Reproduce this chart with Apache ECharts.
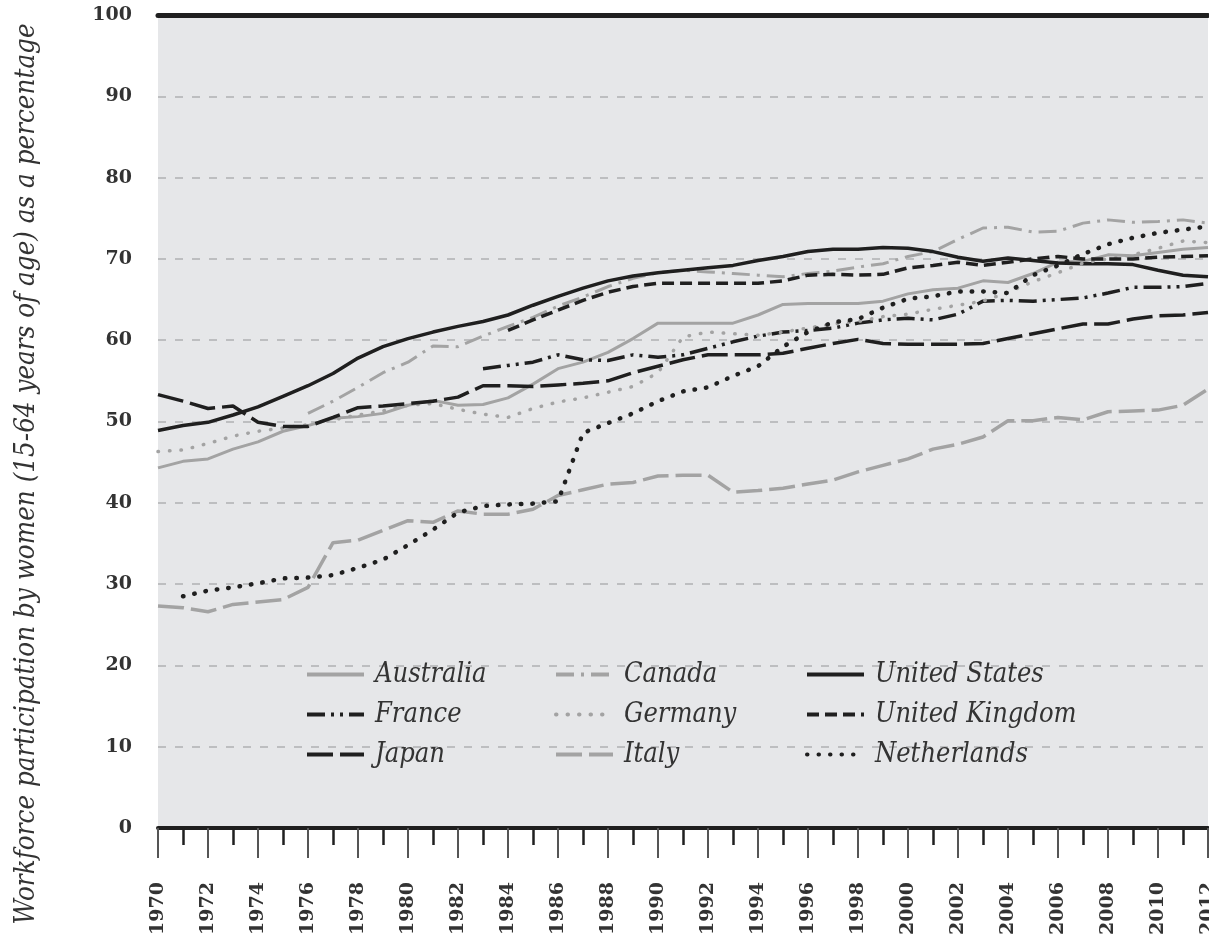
<!DOCTYPE html>
<html>
<head>
<meta charset="utf-8">
<script src="https://cdn.jsdelivr.net/npm/echarts@6/dist/echarts.min.js"></script>
<style>
  html, body { margin: 0; padding: 0; background: #fff; }
  #chart { width: 1209px; height: 941px; }
</style>
</head>
<body>
<div id="chart"></div>
<script>
const years = [
  1970, 1971, 1972, 1973, 1974, 1975, 1976, 1977, 1978, 1979,
  1980, 1981, 1982, 1983, 1984, 1985, 1986, 1987, 1988, 1989,
  1990, 1991, 1992, 1993, 1994, 1995, 1996, 1997, 1998, 1999,
  2000, 2001, 2002, 2003, 2004, 2005, 2006, 2007, 2008, 2009,
  2010, 2011, 2012
];

const australia = [
  44.3, 45.1, 45.4, 46.6, 47.5, 48.8, 49.5, 50.4, 50.6, 51.0,
  52.0, 52.6, 52.0, 52.1, 52.9, 54.6, 56.5, 57.3, 58.5, 60.2,
  62.1, 62.1, 62.1, 62.1, 63.1, 64.4, 64.5, 64.5, 64.5, 64.8,
  65.7, 66.2, 66.4, 67.3, 67.1, 68.2, 69.6, 69.7, 70.5, 70.4,
  70.8, 71.2, 71.4
];
const canada = [
  null, null, null, null, null, null, 51.0, 52.5, 54.2, 56.0,
  57.3, 59.3, 59.2, 60.5, 61.7, 62.8, 64.2, 65.3, 66.6, 67.6,
  68.3, 68.6, 68.4, 68.2, 68.0, 67.8, 68.2, 68.5, 69.0, 69.4,
  70.3, 70.9, 72.4, 73.8, 73.9, 73.3, 73.4, 74.4, 74.8, 74.5,
  74.6, 74.8, 74.4
];
const unitedStates = [
  48.9, 49.5, 49.9, 50.8, 51.8, 53.1, 54.4, 55.9, 57.8, 59.2,
  60.2, 61.0, 61.7, 62.3, 63.1, 64.3, 65.4, 66.4, 67.3, 67.9,
  68.3, 68.6, 68.9, 69.2, 69.8, 70.3, 70.9, 71.2, 71.2, 71.4,
  71.3, 70.9, 70.2, 69.7, 70.1, 69.8, 69.5, 69.4, 69.4, 69.3,
  68.6, 68.0, 67.8
];
const france = [
  null, null, null, null, null, null, null, null, null, null,
  null, null, null, 56.5, 56.9, 57.3, 58.2, 57.6, 57.5, 58.2,
  57.9, 58.2, 59.0, 59.8, 60.5, 61.0, 61.2, 61.5, 62.1, 62.5,
  62.7, 62.5, 63.2, 64.8, 64.9, 64.8, 65.0, 65.2, 65.8, 66.5,
  66.5, 66.6, 67.0
];
const germany = [
  46.3, 46.5, 47.3, 48.2, 48.8, 49.2, 49.6, 50.2, 50.8, 51.3,
  52.0, 52.2, 51.5, 50.9, 50.5, 51.6, 52.4, 52.9, 53.6, 54.3,
  56.0, 60.4, 61.0, 60.8, 60.6, 61.0, 61.5, 62.0, 62.3, 62.9,
  63.2, 63.8, 64.3, 64.8, 65.9, 67.2, 68.3, 69.5, 70.0, 70.5,
  71.3, 72.2, 72.0
];
const unitedKingdom = [
  null, null, null, null, null, null, null, null, null, null,
  null, null, null, null, 61.2, 62.5, 63.7, 64.9, 65.9, 66.6,
  67.0, 67.0, 67.0, 67.0, 67.0, 67.3, 68.0, 68.1, 68.0, 68.1,
  68.9, 69.2, 69.6, 69.2, 69.6, 70.0, 70.3, 70.0, 70.0, 70.0,
  70.2, 70.3, 70.4
];
const japan = [
  53.3, 52.5, 51.6, 51.9, 49.9, 49.4, 49.4, 50.5, 51.7, 51.9,
  52.2, 52.5, 53.0, 54.4, 54.4, 54.3, 54.5, 54.7, 55.0, 56.0,
  56.8, 57.6, 58.2, 58.2, 58.2, 58.4, 59.0, 59.6, 60.1, 59.6,
  59.5, 59.5, 59.5, 59.6, 60.2, 60.8, 61.4, 62.0, 62.0, 62.6,
  63.0, 63.1, 63.4
];
const italy = [
  27.3, 27.1, 26.6, 27.5, 27.8, 28.1, 29.6, 35.1, 35.4, 36.6,
  37.8, 37.6, 39.0, 38.6, 38.6, 39.2, 40.9, 41.6, 42.3, 42.5,
  43.3, 43.4, 43.4, 41.3, 41.5, 41.8, 42.3, 42.8, 43.8, 44.6,
  45.4, 46.6, 47.2, 48.1, 50.1, 50.1, 50.5, 50.2, 51.2, 51.3,
  51.4, 52.0, 54.0
];
const netherlands = [
  null, 28.5, 29.2, 29.6, 30.1, 30.7, 30.8, 31.1, 32.0, 33.0,
  34.8, 36.7, 38.8, 39.6, 39.8, 39.9, 40.2, 48.6, 49.8, 51.0,
  52.5, 53.7, 54.2, 55.6, 56.8, 59.2, 61.0, 62.2, 62.6, 64.0,
  65.1, 65.4, 66.0, 66.0, 65.8, 68.0, 69.2, 70.6, 71.8, 72.6,
  73.2, 73.6, 74.0
];

const yTicks = [0, 10, 20, 30, 40, 50, 60, 70, 80, 90, 100];
const yTitle = "Workforce participation by women (15-64 years of age) as a percentage";

const grey = "#a3a3a3";
const black = "#1f1f1f";
const serif = "DejaVu Serif Condensed, DejaVu Serif, serif";

// name, values, colour, width, dash pattern
const countries = [
  ["Australia", australia, grey, 3, "solid"],
  ["Canada", canada, grey, 3, [18, 7, 3, 7]],
  ["United States", unitedStates, black, 3.5, "solid"],
  ["France", france, black, 3.5, [18, 6, 3, 6, 3, 6]],
  ["Germany", germany, grey, 3.5, [0.5, 11]],
  ["United Kingdom", unitedKingdom, black, 3.5, [12, 6]],
  ["Japan", japan, black, 3.5, [26, 7]],
  ["Italy", italy, grey, 3.5, [26, 7]],
  ["Netherlands", netherlands, black, 4.5, [0.5, 11]]
];

function makeSeries(c) {
  const dotted = Array.isArray(c[4]) && c[4][0] < 1;
  return {
    name: c[0],
    type: "line",
    data: years.map((y, i) => [y, c[1][i]]),
    symbol: "none",
    connectNulls: false,
    lineStyle: {
      color: c[2],
      width: c[3],
      type: c[4],
      cap: dotted ? "round" : "butt"
    },
    itemStyle: { color: c[2] },
    emphasis: { disabled: true }
  };
}

function makeLegend(names, left) {
  return {
    data: names,
    orient: "vertical",
    left: left,
    top: 656,
    itemWidth: 57,
    itemHeight: 14,
    itemGap: 13,
    selectedMode: false,
    itemStyle: { opacity: 0 },
    lineStyle: { width: 4 },
    textStyle: {
      fontFamily: serif,
      fontStyle: "italic",
      fontSize: 27,
      color: "#333",
      padding: [0, 0, 0, 6]
    }
  };
}

const chart = echarts.init(document.getElementById("chart"), null, { renderer: "canvas" });

chart.setOption({
  animation: false,
  backgroundColor: "#fff",
  grid: {
    left: 158,
    right: 1,
    top: 15,
    bottom: 113,
    outerBoundsMode: "none",
    containLabel: false,
    show: true,
    backgroundColor: "#e6e7e9",
    borderWidth: 0
  },
  legend: [
    makeLegend(["Australia", "France", "Japan"], 300),
    makeLegend(["Canada", "Germany", "Italy"], 549),
    makeLegend(["United States", "United Kingdom", "Netherlands"], 800)
  ],
  xAxis: [
    {
      type: "value",
      min: years[0],
      max: years[years.length - 1],
      interval: 2,
      axisLine: { show: true, onZero: false, lineStyle: { color: black, width: 4 } },
      axisTick: { show: true, length: 30, lineStyle: { color: "#555", width: 2 } },
      minorTick: { show: true, splitNumber: 2, length: 17, lineStyle: { color: black, width: 2.5 } },
      splitLine: { show: false },
      axisLabel: {
        rotate: 90,
        margin: 54,
        fontFamily: "DejaVu Serif, serif",
        fontWeight: "bold",
        fontSize: 19,
        color: "#333",
        formatter: (v) => String(v)
      }
    },
    {
      type: "value",
      position: "top",
      min: years[0],
      max: years[years.length - 1],
      axisLine: { show: true, onZero: false, lineStyle: { color: black, width: 5 } },
      axisTick: { show: false },
      axisLabel: { show: false },
      splitLine: { show: false }
    }
  ],
  yAxis: {
    type: "value",
    min: yTicks[0],
    max: yTicks[yTicks.length - 1],
    interval: 10,
    axisLine: { show: false },
    axisTick: { show: false },
    splitLine: { show: true, lineStyle: { color: "#bdbec0", width: 2, type: [8, 9] } },
    axisLabel: {
      margin: 26,
      fontFamily: "DejaVu Serif, serif",
      fontWeight: "bold",
      fontSize: 19,
      color: "#333"
    }
  },
  graphic: [
    {
      type: "text",
      x: 27,
      y: 474,
      rotation: Math.PI / 2,
      style: {
        text: yTitle,
        fontFamily: serif,
        fontStyle: "italic",
        fontSize: 27.5,
        fill: "#333",
        align: "center",
        verticalAlign: "middle"
      }
    }
  ],
  series: countries.map(makeSeries)
});
</script>
</body>
</html>
